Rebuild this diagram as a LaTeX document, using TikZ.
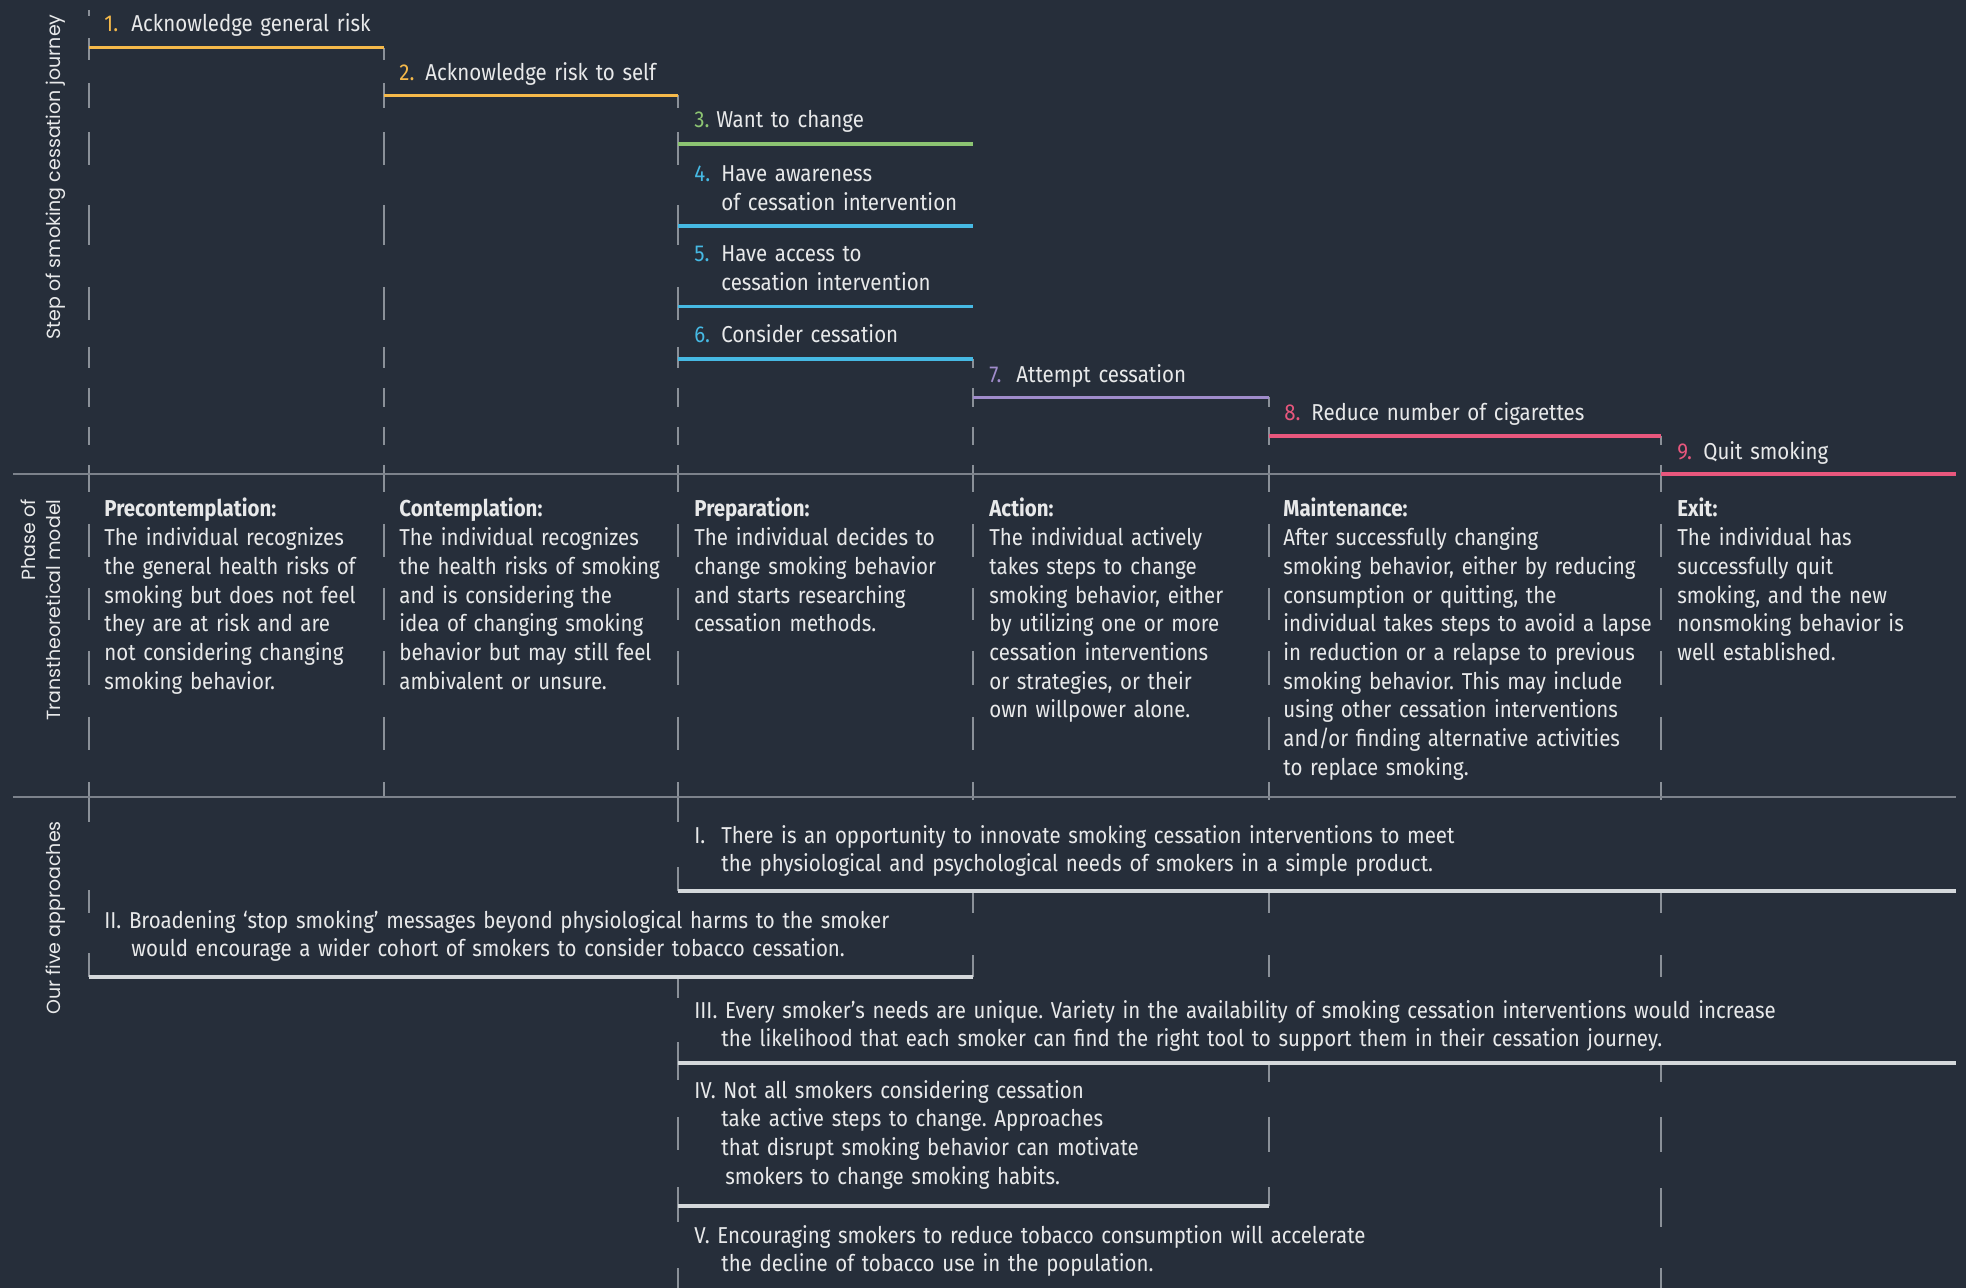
\documentclass[tikz,border=0pt]{standalone}
\usepackage{fontspec}
\setmainfont{Fira Sans}[FakeStretch=0.89]
\newfontfamily\labelfont{Poppins}
\definecolor{bg}{HTML}{262E3A}
\definecolor{txtc}{HTML}{E8E9EA}
\definecolor{dashc}{HTML}{8A9098}
\definecolor{hgray}{HTML}{7C828B}
\definecolor{apc}{HTML}{D4D8DB}
\definecolor{cyel}{HTML}{F5B94A}
\definecolor{cgrn}{HTML}{8CC472}
\definecolor{cblu}{HTML}{46B9E3}
\definecolor{cpur}{HTML}{A08CCB}
\definecolor{cpnk}{HTML}{E8577D}
\tikzset{
  colseg/.style={draw=dashc, line width=0.75pt},
  hline/.style={draw=hgray, line width=1.25pt},
  stepline/.style={line width=1.8pt},
  apline/.style={draw=apc, line width=2pt},
  txt/.style={text=txtc, inner sep=0pt, anchor=base west, align=left, text width=300pt},
  num/.style={inner sep=0pt, anchor=base west},
  sidelab/.style={text=txtc, rotate=90, inner sep=0pt, font=\labelfont\fontsize{9.5pt}{12.5pt}\selectfont}
}
\newcommand\colsegs[2]{\foreach \a/\b in {#2} {\draw[colseg] (#1,\a) -- (#1,\b);}}
\newcommand\midsegs{465/492, 524/557, 588/620, 651/685, 717/750}
\begin{document}
\frenchspacing
\begin{tikzpicture}[x=0.5pt,y=-0.5pt,font=\fontsize{11.5pt}{14.35pt}\selectfont]
\fill[bg] (0,0) rectangle (1966,1288);
\useasboundingbox (0,0) rectangle (1966,1288);

% dashed column lines (segments)
\colsegs{89}{10/16, 38/60, 83/108, 132/165, 205/245, 287/320, 347/368, 388/407, 427/445, 465/492, 524/557, 588/620, 651/685, 717/750, 782/822, 890/913, 953/977}
\colsegs{384}{47.6/60, 83/108, 132/165, 205/245, 287/320, 347/368, 388/407, 427/445, 465/492, 524/557, 588/620, 651/685, 717/750, 782/797}
\colsegs{678}{95.5/108, 132/165, 205/245, 287/320, 347/368, 388/407, 427/445, 465/492, 524/557, 588/620, 651/685, 717/750, 782/822, 867/891, 977/998, 1042/1080, 1117/1150, 1187/1222, 1268/1288}
\colsegs{973}{359/368, 388/407, 427/445, 465/492, 524/557, 588/620, 651/685, 717/750, 782/800, 890/913, 955/977}
\colsegs{1269}{397.5/407, 427/445, 465/492, 524/557, 588/620, 651/685, 717/750, 782/800, 890/913, 955/977, 1063/1082, 1117/1152, 1187/1206}
\colsegs{1661}{436/445, 465/492, 524/557, 588/620, 651/685, 717/750, 782/800, 890/913, 955/977, 1063/1082, 1117/1152, 1188/1227, 1268/1288}

% horizontal separators
\draw[hline] (13,474) -- (1956,474);
\draw[hline] (13,797) -- (1956,797);

% step lines
\draw[stepline, cyel] (89,47.6) -- (384,47.6);
\draw[stepline, cyel] (384,95.5) -- (678,95.5);
\draw[stepline, cgrn] (678,144) -- (973,144);
\draw[stepline, cblu] (678,226) -- (973,226);
\draw[stepline, cblu] (678,306.5) -- (973,306.5);
\draw[stepline, cblu] (678,359) -- (973,359);
\draw[stepline, cpur] (973,397.5) -- (1269,397.5);
\draw[stepline, cpnk] (1269,436) -- (1661,436);
\draw[stepline, cpnk] (1661,474) -- (1956,474);

% approach lines
\draw[apline] (678,891) -- (1956,891);
\draw[apline] (89,977) -- (973,977);
\draw[apline] (678,1063) -- (1956,1063);
\draw[apline] (678,1206) -- (1269,1206);

% side labels
\node[sidelab] (labstep) at (56,177) {Step of smoking cessation journey};
\node[sidelab, align=right] (labphase) at (41,610) {Phase of\\Transtheoretical model};
\node[sidelab] (labapp) at (56,918) {Our five approaches};

% steps
\node[num, text=cyel] (n1) at (104,32) {1.};
\node[txt] (s1) at (131,32) {Acknowledge general risk};
\node[num, text=cyel] (n2) at (399,81) {2.};
\node[txt] (s2) at (425,81) {Acknowledge risk to self};
\node[num, text=cgrn] (n3) at (694,128) {3.};
\node[txt] (s3) at (716,128) {Want to change};
\node[num, text=cblu] (n4) at (694,182) {4.};
\node[txt] (s4) at (721,182) {Have awareness\\of cessation intervention};
\node[num, text=cblu] (n5) at (694,262) {5.};
\node[txt] (s5) at (721,262) {Have access to\\cessation intervention};
\node[num, text=cblu] (n6) at (694,343) {6.};
\node[txt] (s6) at (721,343) {Consider cessation};
\node[num, text=cpur] (n7) at (989,383) {7.};
\node[txt] (s7) at (1016,383) {Attempt cessation};
\node[num, text=cpnk] (n8) at (1284,421) {8.};
\node[txt] (s8) at (1311,421) {Reduce number of cigarettes};
\node[num, text=cpnk] (n9) at (1677,460) {9.};
\node[txt] (s9) at (1703,460) {Quit smoking};

% phases
\node[txt] (p1) at (104,517) {\textbf{Precontemplation:}\\The individual recognizes\\the general health risks of\\smoking but does not feel\\they are at risk and are\\not considering changing\\smoking behavior.};
\node[txt] (p2) at (399,517) {\textbf{Contemplation:}\\The individual recognizes\\the health risks of smoking\\and is considering the\\idea of changing smoking\\behavior but may still feel\\ambivalent or unsure.};
\node[txt] (p3) at (694,517) {\textbf{Preparation:}\\The individual decides to\\change smoking behavior\\and starts researching\\cessation methods.};
\node[txt] (p4) at (989,517) {\textbf{Action:}\\The individual actively\\takes steps to change\\smoking behavior, either\\by utilizing one or more\\cessation interventions\\or strategies, or their\\own willpower alone.};
\node[txt] (p5) at (1283,517) {\textbf{Maintenance:}\\After successfully changing\\smoking behavior, either by reducing\\consumption or quitting, the\\individual takes steps to avoid a lapse\\in reduction or a relapse to previous\\smoking behavior. This may include\\using other cessation interventions\\and/or finding alternative activities\\to replace smoking.};
\node[txt] (p6) at (1677,517) {\textbf{Exit:}\\The individual has\\successfully quit\\smoking, and the new\\nonsmoking behavior is\\well established.};

% approaches
\node[txt, text width=700pt] (a1) at (694,843) {\makebox[13.5pt][l]{I.}There is an opportunity to innovate smoking cessation interventions to meet\\\hspace*{13.5pt}the physiological and psychological needs of smokers in a simple product.};
\node[txt, text width=700pt] (a2) at (104,928) {II. Broadening ‘stop smoking’ messages beyond physiological harms to the smoker\\\hspace*{13.5pt}would encourage a wider cohort of smokers to consider tobacco cessation.};
\node[txt, text width=700pt] (a3) at (694,1018) {III. Every smoker’s needs are unique. Variety in the availability of smoking cessation interventions would increase\\\hspace*{13.5pt}the likelihood that each smoker can find the right tool to support them in their cessation journey.};
\node[txt, text width=700pt] (a4) at (694,1098) {IV. Not all smokers considering cessation\\\hspace*{13.5pt}take active steps to change. Approaches\\\hspace*{13.5pt}that disrupt smoking behavior can motivate\\\hspace*{15.5pt}smokers to change smoking habits.};
\node[txt, text width=700pt] (a5) at (694,1243) {V. Encouraging smokers to reduce tobacco consumption will accelerate\\\hspace*{13.5pt}the decline of tobacco use in the population.};
\end{tikzpicture}
\end{document}
